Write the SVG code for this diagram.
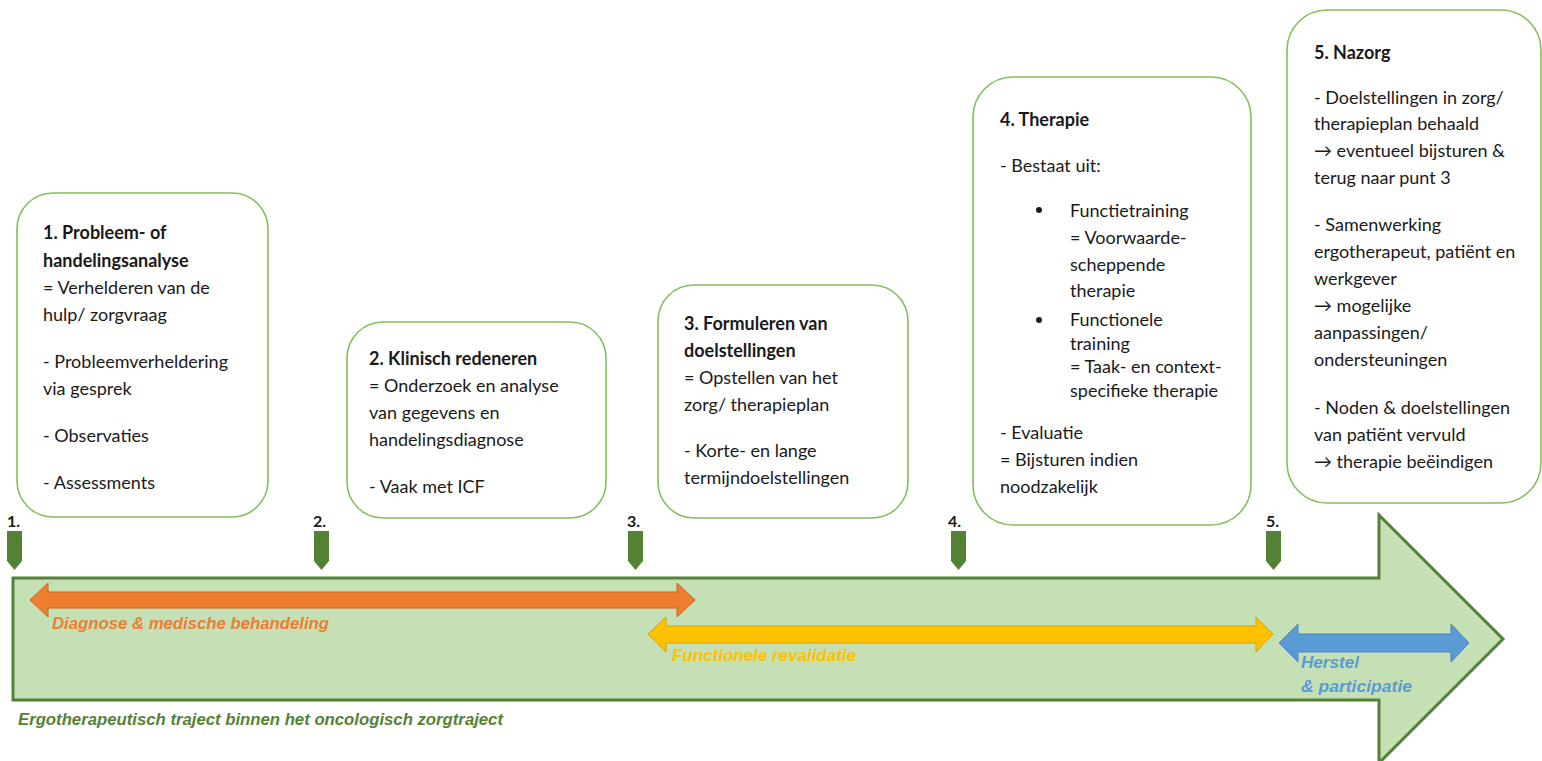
<svg xmlns="http://www.w3.org/2000/svg" width="1542" height="761" viewBox="0 0 1542 761">
<style>
.box{fill:#ffffff;stroke:#84BF5C;stroke-width:1.6}
.t{font-family:Lato,"Open Sans","DejaVu Sans",sans-serif;font-size:18px;fill:#1a1a1a}
.b{font-weight:bold}
.num{font-family:Lato,"DejaVu Sans",sans-serif;font-size:16px;font-weight:bold;fill:#1a1a1a}
.mk{fill:#548235}
.lab{font-family:"Liberation Sans",Arial,sans-serif;font-size:16px;font-weight:bold;font-style:italic}
</style>
<rect width="1542" height="761" fill="#ffffff"/>

<g id="connectors">
  <path id="main-arrow" d="M13,578 H1379 V515 L1503,639 L1379,763 V700 H13 Z" fill="#C5E0B4" stroke="#538135" stroke-width="3"/>
  <path id="arrow-diagnose" d="M30,600 L48,583 V592 H677 V583 L695,600 L677,617 V608 H48 V617 Z" fill="#ED7D31" stroke="#C8651F" stroke-width="1"/>
  <path id="arrow-revalidatie" d="M648,634 L666,617 V626 H1256 V617 L1273,634 L1256,652 V643 H666 V652 Z" fill="#FFC000" stroke="#D9A300" stroke-width="1"/>
  <path id="arrow-herstel" d="M1279,643 L1298,624 V634 H1451 V624 L1469,643 L1451,662 V652 H1298 V662 Z" fill="#5B9BD5" stroke="#4A85BD" stroke-width="1"/>
  <text class="lab" x="52" y="629" fill="#ED7D31" textLength="277" lengthAdjust="spacingAndGlyphs">Diagnose &amp; medische behandeling</text>
  <text class="lab" x="672" y="661" fill="#FFC000" textLength="184" lengthAdjust="spacingAndGlyphs">Functionele revalidatie</text>
  <text class="lab" x="1301" y="668" fill="#5B9BD5" textLength="58" lengthAdjust="spacingAndGlyphs">Herstel</text>
  <text class="lab" x="1301" y="692" fill="#5B9BD5" textLength="111" lengthAdjust="spacingAndGlyphs">&amp; participatie</text>
  <text class="lab" x="18" y="725" fill="#548235" textLength="485" lengthAdjust="spacingAndGlyphs">Ergotherapeutisch traject binnen het oncologisch zorgtraject</text>
</g>

<g id="markers">
  <g id="marker-1"><text class="num" x="7" y="527">1.</text><path class="mk" d="M7,531 H22 V561 L14.5,570 L7,561 Z"/></g>
  <g id="marker-2"><text class="num" x="313" y="527">2.</text><path class="mk" d="M314,531 H329 V561 L321.5,570 L314,561 Z"/></g>
  <g id="marker-3"><text class="num" x="627" y="527">3.</text><path class="mk" d="M628,531 H643 V561 L635.5,570 L628,561 Z"/></g>
  <g id="marker-4"><text class="num" x="948" y="527">4.</text><path class="mk" d="M951,531 H966 V561 L958.5,570 L951,561 Z"/></g>
  <g id="marker-5"><text class="num" x="1266" y="527">5.</text><path class="mk" d="M1266,531 H1281 V561 L1273.5,570 L1266,561 Z"/></g>
</g>

<g id="node-1">
  <rect class="box" x="17" y="193" width="251" height="324" rx="36"/>
  <text class="t b" x="43" y="239">1. Probleem- of</text>
  <text class="t b" x="43" y="267">handelingsanalyse</text>
  <text class="t" x="43" y="294">= Verhelderen van de</text>
  <text class="t" x="43" y="321">hulp/ zorgvraag</text>
  <text class="t" x="43" y="368">- Probleemverheldering</text>
  <text class="t" x="43" y="395">via gesprek</text>
  <text class="t" x="43" y="442">- Observaties</text>
  <text class="t" x="43" y="489">- Assessments</text>
</g>

<g id="node-2">
  <rect class="box" x="347" y="322" width="259" height="196" rx="36"/>
  <text class="t b" x="369" y="365">2. Klinisch redeneren</text>
  <text class="t" x="369" y="392">= Onderzoek en analyse</text>
  <text class="t" x="369" y="419">van gegevens en</text>
  <text class="t" x="369" y="446">handelingsdiagnose</text>
  <text class="t" x="369" y="493">- Vaak met ICF</text>
</g>

<g id="node-3">
  <rect class="box" x="658" y="285" width="250" height="233" rx="36"/>
  <text class="t b" x="684" y="330">3. Formuleren van</text>
  <text class="t b" x="684" y="357">doelstellingen</text>
  <text class="t" x="684" y="384">= Opstellen van het</text>
  <text class="t" x="684" y="411">zorg/ therapieplan</text>
  <text class="t" x="684" y="457">- Korte- en lange</text>
  <text class="t" x="684" y="484">termijndoelstellingen</text>
</g>

<g id="node-4">
  <rect class="box" x="973" y="77" width="278" height="448" rx="40"/>
  <text class="t b" x="1000" y="126">4. Therapie</text>
  <text class="t" x="1000" y="172">- Bestaat uit:</text>
  <circle cx="1039" cy="210" r="3" fill="#1a1a1a"/>
  <text class="t" x="1070" y="217">Functietraining</text>
  <text class="t" x="1070" y="244">= Voorwaarde-</text>
  <text class="t" x="1070" y="271">scheppende</text>
  <text class="t" x="1070" y="297">therapie</text>
  <circle cx="1039" cy="320" r="3" fill="#1a1a1a"/>
  <text class="t" x="1070" y="326">Functionele</text>
  <text class="t" x="1070" y="350">training</text>
  <text class="t" x="1070" y="373">= Taak- en context-</text>
  <text class="t" x="1070" y="397">specifieke therapie</text>
  <text class="t" x="1000" y="439">- Evaluatie</text>
  <text class="t" x="1000" y="466">= Bijsturen indien</text>
  <text class="t" x="1000" y="493">noodzakelijk</text>
</g>

<g id="node-5">
  <rect class="box" x="1287" y="10" width="254" height="493" rx="40"/>
  <text class="t b" x="1314" y="59">5. Nazorg</text>
  <text class="t" x="1314" y="104">- Doelstellingen in zorg/</text>
  <text class="t" x="1314" y="130">therapieplan behaald</text>
  <text class="t" x="1314" y="157">→ eventueel bijsturen &amp;</text>
  <text class="t" x="1314" y="184">terug naar punt 3</text>
  <text class="t" x="1314" y="231">- Samenwerking</text>
  <text class="t" x="1314" y="258">ergotherapeut, patiënt en</text>
  <text class="t" x="1314" y="285">werkgever</text>
  <text class="t" x="1314" y="312">→ mogelijke</text>
  <text class="t" x="1314" y="339">aanpassingen/</text>
  <text class="t" x="1314" y="366">ondersteuningen</text>
  <text class="t" x="1314" y="414">- Noden &amp; doelstellingen</text>
  <text class="t" x="1314" y="441">van patiënt vervuld</text>
  <text class="t" x="1314" y="468">→ therapie beëindigen</text>
</g>
</svg>
